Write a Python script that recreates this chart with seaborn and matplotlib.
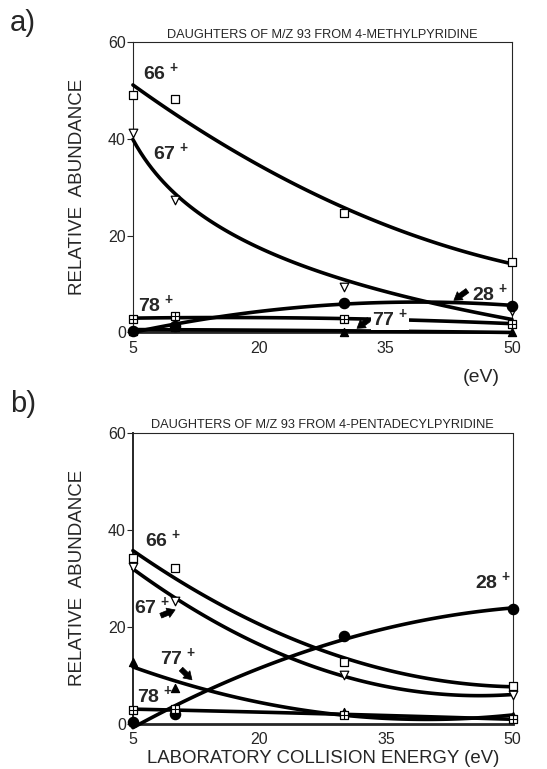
import numpy as np
import pandas as pd
import matplotlib
matplotlib.use('Agg')
import matplotlib.pyplot as plt
import seaborn as sns

#-- Data:

energy = [5, 10, 30, 50]

a_66 = [49.0, 48.2, 24.6, 14.5]
a_67 = [41.2, 27.3, 9.3, 4.3]
a_28 = [0.3, 1.2, 6.0, 5.5]
a_78 = [2.7, 3.3, 2.7, 1.8]
a_77 = [0.2, 1.0, 0.1, 0.0]

b_66 = [34.2, 32.1, 12.8, 7.9]
b_67 = [32.4, 25.3, 10.1, 6.0]
b_28 = [0.5, 2.0, 18.1, 23.7]
b_77 = [12.8, 7.4, 2.4, 1.7]
b_78 = [2.9, 3.1, 1.9, 1.0]

x_ticks = [5, 20, 35, 50]
y_ticks = [0, 20, 40, 60]

title_a = 'DAUGHTERS OF M/Z 93 FROM 4-METHYLPYRIDINE'
title_b = 'DAUGHTERS OF M/Z 93 FROM 4-PENTADECYLPYRIDINE'

#-- Style:

sns.set_style('ticks')
plt.rcParams['font.family'] = ['Liberation Sans', 'DejaVu Sans']
plt.rcParams['mathtext.fontset'] = 'custom'
plt.rcParams['mathtext.rm'] = 'Liberation Sans:bold'
plt.rcParams['mathtext.bf'] = 'Liberation Sans:bold'

fig = plt.figure(figsize=(5.47, 7.69), dpi=100)
ax_a = fig.add_axes([0.243, 0.568, 0.693, 0.377])
ax_b = fig.add_axes([0.243, 0.0585, 0.694, 0.379])

# marker spec per ion
marker_style = {
    '66': dict(marker='s', facecolor='white', edgecolor='black', s=38),
    '67': dict(marker='v', facecolor='white', edgecolor='black', s=38),
    '28': dict(marker='o', facecolor='black', edgecolor='black', s=55),
    '78': dict(marker='s', facecolor='white', edgecolor='black', s=34),
    '77': dict(marker='^', facecolor='black', edgecolor='black', s=34),
}


def draw_series(ax, y, ion, fit):
    df = pd.DataFrame({'energy': energy, 'abundance': y})
    kw = dict(order=2) if fit == 'quad' else dict(logx=True)
    sns.regplot(data=df, x='energy', y='abundance', ax=ax, ci=None, scatter=False,
                truncate=True, color='black', line_kws=dict(lw=2.6, clip_on=False, zorder=3), **kw)
    st = marker_style[ion]
    sns.scatterplot(data=df, x='energy', y='abundance', ax=ax, marker=st['marker'],
                    s=st['s'], facecolor=st['facecolor'], edgecolor=st['edgecolor'],
                    linewidth=0.9, clip_on=False, zorder=4)
    if ion == '78':
        # square with a cross inside
        ax.scatter(energy, y, marker='+', s=34, color='black', linewidth=0.8,
                   clip_on=False, zorder=5)


def format_axes(ax, title):
    ax.set_xlim(5, 50)
    ax.set_ylim(0, 60)
    ax.set_xticks(x_ticks)
    ax.set_yticks(y_ticks)
    ax.tick_params(axis='x', length=0, pad=6, labelsize=11.5)
    ax.tick_params(axis='y', length=4, width=0.8, direction='out', pad=1, labelsize=11.5)
    ax.set_xlabel('')
    ax.set_ylabel('RELATIVE  ABUNDANCE', fontsize=13.5, labelpad=16)
    for side in ['top', 'right', 'left']:
        ax.spines[side].set_visible(True)
        ax.spines[side].set_linewidth(0.8)
    ax.spines['right'].set_linestyle((0, (1, 1)))
    ax.spines['bottom'].set_linewidth(2.0)
    ax.set_title(title, fontsize=9.2, pad=3)


def label(ax, text, x, y, arrow=None, mask=False):
    box = dict(facecolor='white', edgecolor='none', pad=0.6) if mask else None
    ax.text(x, y, r'$\mathbf{' + text + r'^{\,+}}$', fontsize=14, ha='left', va='bottom',
            zorder=6, bbox=box)
    if arrow is not None:
        (x0, y0), (x1, y1) = arrow
        ax.annotate('', xy=(x1, y1), xytext=(x0, y0),
                    arrowprops=dict(arrowstyle='simple,head_width=0.9,head_length=0.7,tail_width=0.45',
                                    fc='black', ec='black', lw=0.5, shrinkA=0, shrinkB=0,
                                    mutation_scale=8), zorder=7)


#- Panel a:

draw_series(ax_a, a_66, '66', 'quad')
draw_series(ax_a, a_67, '67', 'log')
draw_series(ax_a, a_28, '28', 'quad')
draw_series(ax_a, a_78, '78', 'quad')
draw_series(ax_a, a_77, '77', 'quad')
format_axes(ax_a, title_a)

label(ax_a, '66', 6.2, 51.5)
label(ax_a, '67', 7.4, 35.0)
label(ax_a, '78', 5.6, 3.6)
label(ax_a, '28', 45.3, 5.9, arrow=((44.7, 8.6), (43.1, 6.6)))
label(ax_a, '77', 33.4, 0.6, arrow=((33.0, 2.6), (31.6, 0.8)), mask=True)
ax_a.text(0.968, -0.155, '(eV)', transform=ax_a.transAxes, fontsize=14, ha='right', va='center')

#- Panel b:

draw_series(ax_b, b_66, '66', 'quad')
draw_series(ax_b, b_67, '67', 'quad')
draw_series(ax_b, b_28, '28', 'quad')
draw_series(ax_b, b_77, '77', 'quad')
draw_series(ax_b, b_78, '78', 'quad')
format_axes(ax_b, title_b)
ax_b.spines['left'].set_linewidth(1.4)

label(ax_b, '66', 6.4, 35.8)
label(ax_b, '67', 5.1, 22.0, arrow=((8.3, 22.3), (10.0, 23.5)))
label(ax_b, '77', 8.2, 11.5, arrow=((10.7, 11.3), (12.0, 9.1)))
label(ax_b, '78', 5.5, 3.8)
label(ax_b, '28', 45.6, 27.2)
ax_b.set_xlabel('LABORATORY COLLISION ENERGY (eV)', fontsize=13.4, labelpad=2)

#- Panel letters:

fig.text(0.018, 0.952, 'a)', fontsize=21, ha='left', va='bottom')
fig.text(0.018, 0.457, 'b)', fontsize=21, ha='left', va='bottom')

plt.savefig('out.png', dpi=100)
